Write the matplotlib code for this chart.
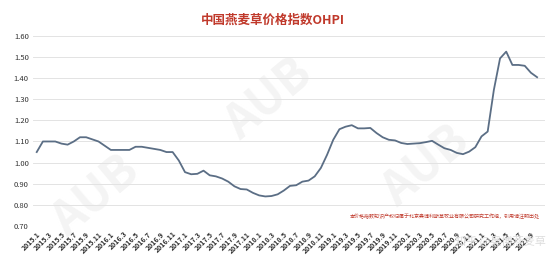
import matplotlib
matplotlib.use('Agg')
import matplotlib.pyplot as plt
import numpy as np

plt.rcParams['font.family'] = ['Noto Sans CJK SC', 'DejaVu Sans']

# monthly index 2015.1 - 2021.10
start_year = 2015
ohpi = [1.05, 1.10, 1.10, 1.10, 1.09, 1.085, 1.10, 1.12, 1.12, 1.11,
        1.10, 1.08, 1.06, 1.06, 1.06, 1.06, 1.075, 1.075, 1.07, 1.065,
        1.06, 1.05, 1.05, 1.01, 0.955, 0.945, 0.947, 0.962, 0.94, 0.935,
        0.925, 0.91, 0.888, 0.875, 0.873, 0.857, 0.845, 0.84, 0.842, 0.85,
        0.868, 0.89, 0.893, 0.91, 0.915, 0.935, 0.975, 1.037, 1.108, 1.158,
        1.17, 1.177, 1.162, 1.162, 1.164, 1.14, 1.12, 1.108, 1.105, 1.093,
        1.088, 1.09, 1.092, 1.097, 1.103, 1.085, 1.068, 1.06, 1.046, 1.04,
        1.052, 1.073, 1.124, 1.147, 1.344, 1.493, 1.525, 1.462, 1.462, 1.458,
        1.425, 1.404]

months = [f'{start_year + i // 12}.{i % 12 + 1}' for i in range(len(ohpi))]
yticks = [0.70, 0.80, 0.90, 1.00, 1.10, 1.20, 1.30, 1.40, 1.50, 1.60]

title = '中国燕麦草价格指数OHPI'
note = '本价格指数知识产权归属于北京奥博利斯草牧业有限公司研究工作组，引用请注明出处'

fig = plt.figure(figsize=(5.54, 2.65), dpi=100)
ax = fig.add_axes([0.0596, 0.147, 0.9244, 0.718])

x = np.arange(len(ohpi))

# faint "AUB" watermarks, behind the line
for (fx, fy) in [(95, 195), (268, 98), (425, 165)]:
    ax.text(fx / 554, 1 - fy / 265, 'AUB', fontsize=34, fontweight='bold',
            color='#f4f4f4', rotation=40, ha='center', va='center',
            transform=fig.transFigure, zorder=0.5, clip_on=False)

ax.plot(x, ohpi, color='#5b6e85', linewidth=1.3, zorder=3)

ax.set_xlim(-0.6, 82.3)
ax.set_ylim(0.70, 1.60)
ax.set_yticks(yticks)
ax.set_yticklabels([f'{v:.2f}' for v in yticks], fontsize=5.5, color='#333333')
ax.set_xticks(x[::2])
ax.set_xticklabels(months[::2], rotation=45, ha='right', rotation_mode='anchor',
                   fontsize=5, fontweight='bold', color='#333333')
ax.tick_params(axis='both', length=0, pad=3)
ax.grid(axis='y', color='#e3e3e3', linewidth=0.7, zorder=1)
ax.set_axisbelow(True)
for s in ax.spines.values():
    s.set_visible(False)
ax.set_facecolor('none')

fig.text(0.493, 1 - 20 / 265, title, fontsize=9, fontweight='bold',
         color='#c0392b', ha='center', va='center')
fig.text(540 / 554, 1 - 216 / 265, note, fontsize=3.6, color='#c0392b',
         ha='right', va='center')
fig.text(500 / 554, 1 - 241 / 265, '知乎 @奥博燕麦草', fontsize=8,
         color='#dddddd', ha='center', va='center', zorder=5)

fig.savefig('out.png', dpi=100, facecolor='white')
